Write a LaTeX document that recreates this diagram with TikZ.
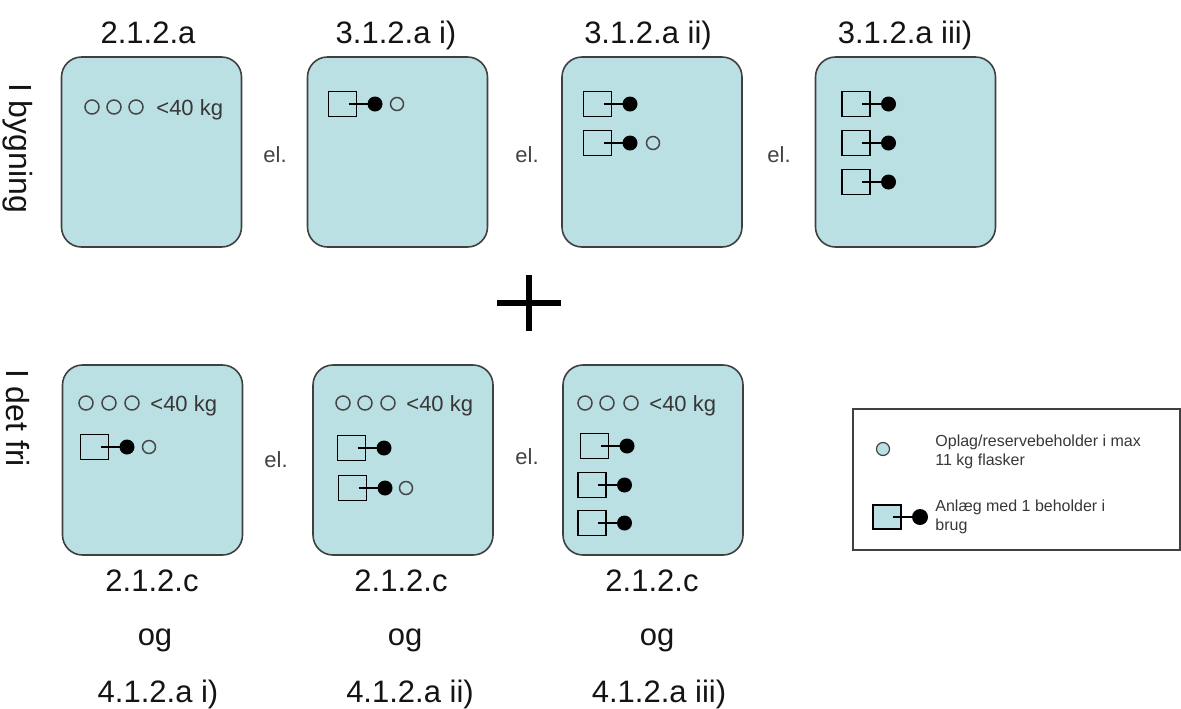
\documentclass[tikz,border=0pt]{standalone}
\usepackage{fontspec}
\setmainfont{Liberation Sans}
\definecolor{boxblue}{RGB}{186,224,227}
\definecolor{boxline}{RGB}{64,64,64}
\definecolor{ringgray}{RGB}{70,70,70}
\definecolor{txt}{RGB}{20,20,20}
\tikzset{
  box/.style={draw=boxline, fill=boxblue, line width=0.8pt, rounded corners=10pt,
    minimum width=90pt, minimum height=95pt, inner sep=0pt},
  ttl/.style={inner sep=0pt, anchor=base, font=\fontsize{15.5pt}{18pt}\selectfont, text=txt},
  elt/.style={inner sep=0pt, font=\fontsize{11pt}{13pt}\selectfont, text=txt!80},
  kg/.style={inner sep=0pt, anchor=base west, font=\fontsize{11pt}{13pt}\selectfont, text=txt!85},
  side/.style={inner sep=0pt, rotate=-90, font=\fontsize{16pt}{18pt}\selectfont, text=txt},
  leg/.style={inner sep=0pt, anchor=north west, align=left, text=txt!85,
    font=\fontsize{8pt}{9.5pt}\selectfont},
  ring/.style={draw=ringgray, line width=0.75pt},
  sym/.style={draw=black, line width=0.55pt},
  anl/.pic={
    \draw[sym] (-14,-12.5) rectangle (14,12.5);
    \draw[sym] (6,0) -- (32.5,0);
    \fill[black] (32.5,0) circle[radius=7.5];
  }
}
\begin{document}
\begin{tikzpicture}[x=0.5pt,y=-0.5pt]
\useasboundingbox (0,0) rectangle (1181,708);

% side labels
\node[side] (sideA) at (18,148) {I bygning};
\node[side] (sideB) at (18,418) {I det fri};

% titles
\node[ttl] (t1) at (148,43) {2.1.2.a};
\node[ttl] (t2) at (396,43) {3.1.2.a i)};
\node[ttl] (t3) at (648,43) {3.1.2.a ii)};
\node[ttl] (t4) at (905,43) {3.1.2.a iii)};

% top boxes
\node[box] (b1) at (151.5,152) {};
\node[box] (b2) at (397.5,152) {};
\node[box] (b3) at (652,152) {};
\node[box] (b4) at (905.5,152) {};

% bottom boxes
\node[box] (b5) at (152.5,460) {};
\node[box] (b6) at (403,460) {};
\node[box] (b7) at (653,460) {};

% el.
\node[elt] (e1) at (275,155) {el.};
\node[elt] (e2) at (527,155) {el.};
\node[elt] (e3) at (779,155) {el.};
\node[elt] (e4) at (276,460) {el.};
\node[elt] (e5) at (527,457) {el.};

% box 1
\draw[ring] (92,107) circle[radius=7] (114,107) circle[radius=7] (136,107) circle[radius=7];
\node[kg] (k1) at (156,115) {<40 kg};

% box 2
\pic at (342.5,104) {anl};
\draw[ring] (397,104) circle[radius=6.5];

% box 3
\pic at (597.5,104) {anl};
\pic at (597.5,143) {anl};
\draw[ring] (653,143) circle[radius=6.5];

% box 4
\pic at (856,104) {anl};
\pic at (856,143) {anl};
\pic at (856,182) {anl};

% box 5
\draw[ring] (86,403) circle[radius=7] (109,403) circle[radius=7] (132,403) circle[radius=7];
\node[kg] (k5) at (150,411) {<40 kg};
\pic at (94.5,447) {anl};
\draw[ring] (149,447) circle[radius=6.5];

% box 6
\draw[ring] (343,403) circle[radius=7] (365,403) circle[radius=7] (388,403) circle[radius=7];
\node[kg] (k6) at (406,411) {<40 kg};
\pic at (351.5,448) {anl};
\pic at (352.5,488) {anl};
\draw[ring] (406,488) circle[radius=6.5];

% box 7
\draw[ring] (585,403) circle[radius=7] (607,403) circle[radius=7] (631,403) circle[radius=7];
\node[kg] (k7) at (649,411) {<40 kg};
\pic at (594.5,446) {anl};
\pic at (592,485) {anl};
\pic at (592,523) {anl};

% plus
\draw[line width=3pt] (497,303) -- (561,303);
\draw[line width=3pt] (529,275) -- (529,331);

% bottom labels
\node[ttl] (c1) at (152,591) {2.1.2.c};
\node[ttl] (c2) at (401,591) {2.1.2.c};
\node[ttl] (c3) at (652,591) {2.1.2.c};
\node[ttl] (o1) at (155,645) {og};
\node[ttl] (o2) at (405,645) {og};
\node[ttl] (o3) at (657,645) {og};
\node[ttl] (d1) at (158,702) {4.1.2.a i)};
\node[ttl] (d2) at (410,702) {4.1.2.a ii)};
\node[ttl] (d3) at (659,702) {4.1.2.a iii)};

% legend
\draw[draw=boxline, line width=0.6pt] (853,409) rectangle (1180,550);
\draw[draw=boxline, fill=boxblue, line width=0.6pt] (883,449) circle[radius=6.5];
\node[leg] (l1) at (935,434) {Oplag/reservebeholder i max\\11 kg flasker};
\draw[sym, fill=boxblue] (873,505) rectangle (901,529);
\draw[sym] (893,517) -- (920,517);
\fill[black] (920,517) circle[radius=8];
\node[leg] (l2) at (935,499) {Anlæg med 1 beholder i\\brug};
\end{tikzpicture}
\end{document}
